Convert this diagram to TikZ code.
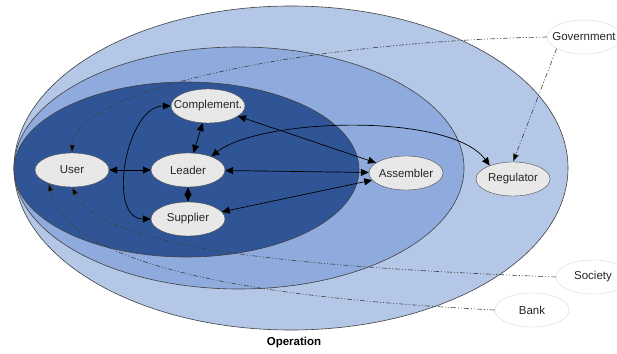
\documentclass[tikz,border=0pt]{standalone}
\usepackage{fontspec}
\setmainfont{Liberation Sans}
\usetikzlibrary{shapes.geometric,arrows.meta}

\definecolor{outerblue}{HTML}{B4C7E7}
\definecolor{midblue}{HTML}{8FAADC}
\definecolor{innerblue}{HTML}{2F5597}
\definecolor{actorgray}{HTML}{E8E8E8}

\begin{document}
\begin{tikzpicture}[x=1pt,y=1pt,>={Triangle[length=8pt,width=7pt]},font=\fontsize{11.5}{13}\selectfont]
    \tikzstyle{zone}=[draw=black!75,line width=0.6pt]
    \tikzstyle{actor}=[ellipse,draw=black!70,fill=actorgray,text=black!85,minimum width=74pt,minimum height=34pt,inner xsep=-12pt,inner ysep=0pt]
    \tikzstyle{outsider}=[actor,draw=black!15,fill=white]
    \tikzstyle{link}=[<->,line width=0.7pt]
    \tikzstyle{influence}=[-{Triangle[length=8pt,width=6pt,fill=black]},draw=black!75,line width=0.6pt,dash pattern=on 5pt off 2pt on 1pt off 2pt on 1pt off 2pt]

    \useasboundingbox (0,0) rectangle (617,353);

    % Draw the nested zones
    \draw[zone,fill=outerblue] (291,185) ellipse (277pt and 162pt);
    \draw[zone,fill=midblue] (239,185) ellipse (225pt and 121pt);
    \draw[zone,fill=innerblue] (186.5,183.5) ellipse (172.5pt and 87.5pt);
    \node[font=\fontsize{11.5}{13}\selectfont\bfseries] (op) at (294,10) {Operation};

    % Draw the actors
    \node[actor] (user) at (72,183) {User};
    \node[actor] (leader) at (188,183) {Leader};
    \node[actor] (comp) at (208,247) {Complement.};
    \node[actor] (sup) at (188,134) {Supplier};
    \node[actor] (asm) at (406,180) {Assembler};
    \node[actor] (reg) at (513,174) {Regulator};

    % Draw the outside parties
    \node[outsider] (gov) at (584,316) {Government};
    \node[outsider] (soc) at (593,76) {Society};
    \node[outsider] (bank) at (532,43) {Bank};

    % Connect the actors
    \draw[link] (user) -- (leader);
    \draw[link] (leader) -- (comp);
    \draw[link] (leader) -- (sup);
    \draw[link] (leader) -- (asm);
    \draw[link] (comp) -- (asm);
    \draw[link] (sup) -- (asm);
    \draw[link] (comp.west) to[out=180,in=180] (sup.west);
    \draw[link] (leader.30) .. controls (260,235) and (450,241) .. (reg.150);

    % Influence of the outside parties
    \draw[influence] (gov.203) -- (reg.north);
    \draw[influence] (gov.west) .. controls (300,311) and (75,263) .. (user.north);
    \draw[influence] (soc.west) .. controls (330,85) and (105,100) .. (user.south);
    \draw[influence] (bank.west) .. controls (300,53) and (70,78) .. (user.210);
\end{tikzpicture}
\end{document}
